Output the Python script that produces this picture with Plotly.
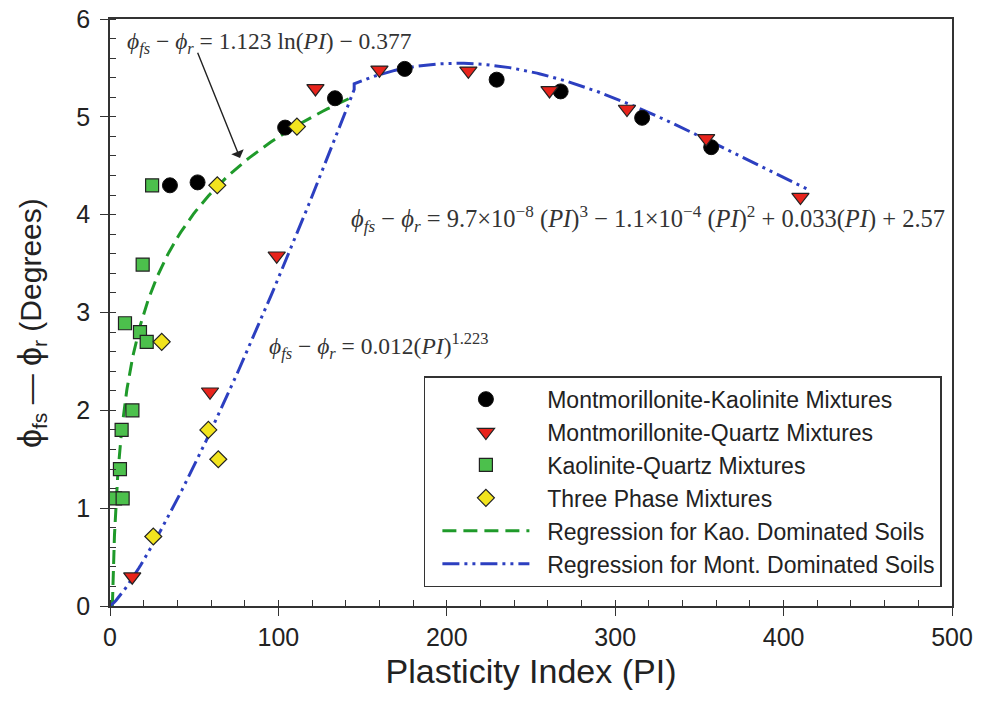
import numpy as np
import plotly.graph_objects as go

# ---- data ----
mk_pi = [35.6, 52, 104, 133.6, 175, 229.6, 267.6, 316, 357]
mk_phi = [4.30, 4.33, 4.89, 5.19, 5.49, 5.38, 5.26, 4.99, 4.69]

mq_pi = [13.2, 59.4, 99, 122, 160, 212.8, 261, 307, 354, 410]
mq_phi = [0.30, 2.19, 3.58, 5.29, 5.48, 5.47, 5.27, 5.08, 4.78, 4.18]

kq_pi = [3, 7.5, 5.9, 6.9, 13.3, 8.9, 17.8, 21.8, 19.4, 25]
kq_phi = [1.10, 1.10, 1.40, 1.80, 2.00, 2.89, 2.80, 2.70, 3.49, 4.30]

tp_pi = [25.7, 64.3, 58.4, 30.7, 63.7, 111]
tp_phi = [0.71, 1.50, 1.80, 2.70, 4.30, 4.90]

# regression coefficients as printed on the chart
kao_a, kao_b = 1.123, -0.377            # a*ln(PI)+b
kao_range = (1.4, 145)
mont_pow_c, mont_pow_e = 0.012, 1.223   # c*PI^e
mont_pow_range = (0, 145)
mont_cub = [9.7e-8, -1.1e-4, 0.033, 2.57]
mont_cub_range = (145, 415)

x_ticks = [0, 100, 200, 300, 400, 500]
y_ticks = [0, 1, 2, 3, 4, 5, 6]

# ---- regression curves ----
kx = np.geomspace(kao_range[0], kao_range[1], 200)
ky = kao_a * np.log(kx) + kao_b
mx1 = np.linspace(mont_pow_range[0], mont_pow_range[1], 120)
my1 = mont_pow_c * mx1 ** mont_pow_e
mx2 = np.linspace(mont_cub_range[0], mont_cub_range[1], 200)
my2 = np.polyval(mont_cub, mx2)
mx = np.concatenate([mx1, mx2])
my = np.concatenate([my1, my2])

pad = "\u00a0\u00a0"
edge = dict(color="#222222", width=1.2)
fig = go.Figure()
fig.add_trace(go.Scatter(x=kx, y=ky, mode="lines", name=pad + "Regression for Kao. Dominated Soils",
                         line=dict(color="#1f9a2a", width=3, dash="14px,7px"), legendrank=5))
fig.add_trace(go.Scatter(x=mx, y=my, mode="lines", name=pad + "Regression for Mont. Dominated Soils",
                         line=dict(color="#2c3fc0", width=3, dash="17px,5px,3px,5px,3px,5px"), legendrank=6))
fig.add_trace(go.Scatter(x=mk_pi, y=mk_phi, mode="markers", name=pad + "Montmorillonite-Kaolinite Mixtures",
                         marker=dict(symbol="circle", size=15, color="#000000", line=dict(color="#111", width=1)),
                         legendrank=1))
fig.add_trace(go.Scatter(x=mq_pi, y=mq_phi, mode="markers", name=pad + "Montmorillonite-Quartz Mixtures",
                         marker=dict(symbol="triangle-down", size=15, color="#e8241c", line=edge),
                         legendrank=2))
fig.add_trace(go.Scatter(x=kq_pi, y=kq_phi, mode="markers", name=pad + "Kaolinite-Quartz Mixtures",
                         marker=dict(symbol="square", size=13, color="#4cc04c", line=edge),
                         legendrank=3))
fig.add_trace(go.Scatter(x=tp_pi, y=tp_phi, mode="markers", name=pad + "Three Phase Mixtures",
                         marker=dict(symbol="diamond", size=13, color="#f2e41e", line=edge),
                         legendrank=4))

serif = "Liberation Serif, Times New Roman, serif"
sans = "Liberation Sans, Arial, sans-serif"
annots = [
    dict(x=0.018, y=0.959, size=23.5,
         text="<i>ϕ</i><sub><i>fs</i></sub> − <i>ϕ</i><sub><i>r</i></sub> = 1.123 ln(<i>PI</i>) − 0.377"),
    dict(x=0.284, y=0.659, size=24.5,
         text="<i>ϕ</i><sub><i>fs</i></sub> − <i>ϕ</i><sub><i>r</i></sub> = 9.7×10<sup>−8</sup> (<i>PI</i>)<sup>3</sup> − 1.1×10<sup>−4</sup> (<i>PI</i>)<sup>2</sup> + 0.033(<i>PI</i>) + 2.57"),
    dict(x=0.186, y=0.443, size=23.5,
         text="<i>ϕ</i><sub><i>fs</i></sub> − <i>ϕ</i><sub><i>r</i></sub> = 0.012(<i>PI</i>)<sup>1.223</sup>"),
]
for a in annots:
    fig.add_annotation(xref="paper", yref="paper", showarrow=False, x=a["x"], y=a["y"],
                       xanchor="left", yanchor="middle", text=a["text"],
                       font=dict(family=serif, size=a["size"], color="#333333"))

fig.add_annotation(x=77.2, y=4.58, ax=51.7, ay=5.67, xref="x", yref="y", axref="x", ayref="y",
                   text="", showarrow=True, arrowhead=1, arrowsize=1.6, arrowwidth=1.4, arrowcolor="#222")

# y-axis title
fig.add_annotation(xref="paper", yref="paper", x=-0.095, y=0.482, xanchor="center", yanchor="middle",
                   showarrow=False, textangle=-90,
                   text="<span style='font-size:34px'>ϕ</span><sub>fs</sub> — "
                        "<span style='font-size:34px'>ϕ</span><sub>r</sub> (Degrees)",
                   font=dict(family=sans, size=30, color="#222222"))

axis_common = dict(showline=True, linecolor="#333333", linewidth=1.5, mirror=True,
                   ticks="outside", ticklen=8, tickwidth=1.3, tickcolor="#333333",
                   showgrid=False, zeroline=False, automargin=False, ticklabeloverflow="allow",
                   tickfont=dict(family=sans, size=25, color="#222222"))
fig.update_xaxes(range=[0, 500], tickvals=x_ticks,
                 minor=dict(dtick=20, ticks="inside", ticklen=6, tickcolor="#333333", showgrid=False),
                 title=dict(text="Plasticity Index (PI)", standoff=9,
                            font=dict(family=sans, size=34, color="#222222")),
                 **axis_common)
fig.update_yaxes(range=[0, 6], tickvals=y_ticks, ticklabelstandoff=5,
                 minor=dict(dtick=0.2, ticks="inside", ticklen=6, tickcolor="#333333", showgrid=False),
                 **axis_common)

fig.update_layout(
    width=990, height=705,
    margin=dict(l=110, r=38, t=19, b=99),
    paper_bgcolor="white", plot_bgcolor="white",
    showlegend=True,
    legend=dict(x=0.988, y=0.032, xanchor="right", yanchor="bottom",
                bgcolor="white", bordercolor="#333333", borderwidth=1.5,
                font=dict(family=sans, size=23, color="#222222"),
                itemwidth=87, indentation=12, tracegroupgap=0),
)
fig.write_html("out.html", config={"displayModeBar": False},
               post_script="document.body.style.margin='0px';")
